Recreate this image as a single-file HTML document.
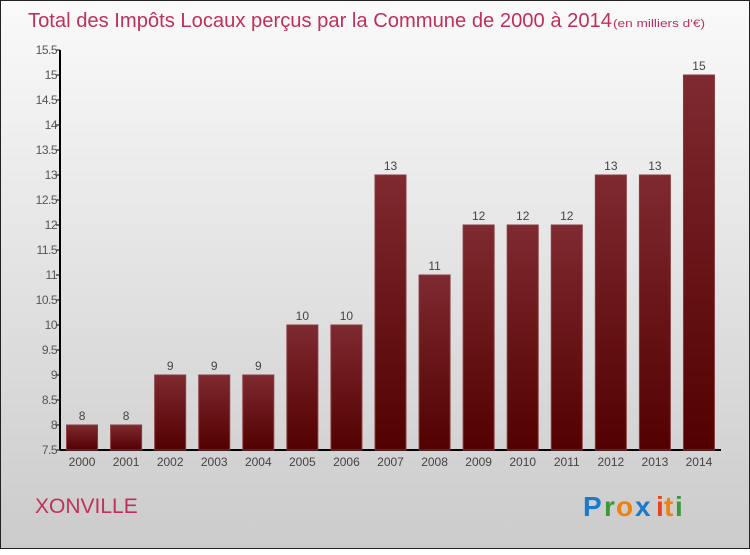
<!DOCTYPE html>
<html><head><meta charset="utf-8"><style>
body{margin:0;width:750px;height:550px;overflow:hidden;font-family:"Liberation Sans",sans-serif;}
</style></head><body>
<svg width="750" height="550" xmlns="http://www.w3.org/2000/svg">
<defs>
<linearGradient id="bg" x1="0" y1="0" x2="0" y2="1"><stop offset="0" stop-color="#fafafa"/><stop offset="1" stop-color="#cbcbcb"/></linearGradient>
<linearGradient id="bar" x1="0" y1="0" x2="0" y2="1"><stop offset="0" stop-color="#7e2a30"/><stop offset="1" stop-color="#520000"/></linearGradient>
</defs>
<rect x="0.5" y="0.5" width="749" height="548" fill="url(#bg)" stroke="#222"/>
<text x="28" y="27" font-size="20" fill="#c0305a" textLength="584" lengthAdjust="spacingAndGlyphs">Total des Impôts Locaux perçus par la Commune de 2000 à 2014</text>
<text x="613" y="27" font-size="11" fill="#c0305a" textLength="92" lengthAdjust="spacingAndGlyphs">(en milliers d'€)</text>
<g id="ax"></g><g id="bars"></g>
<text x="35" y="513" font-size="21" fill="#c0305a">XONVILLE</text>
<g font-size="28" font-weight="bold">
<text x="583" y="516" fill="#1a7acc">P</text><text x="604" y="516" fill="#3a9a3a">r</text><text x="616" y="516" fill="#f08010">o</text><text x="635" y="516" fill="#1a7acc">x</text><text x="656" y="516" fill="#e84020">i</text><text x="664" y="516" fill="#f08010">t</text><text x="675" y="516" fill="#3a9a3a">i</text>
</g>
</svg>
<script>
const years=["2000","2001","2002","2003","2004","2005","2006","2007","2008","2009","2010","2011","2012","2013","2014"];
const values=[8,8,9,9,9,10,10,13,11,12,12,12,13,13,15];
const labels=["8","8","9","9","9","10","10","13","11","12","12","12","13","13","15"];
const ticks=[7.5,8,8.5,9,9.5,10,10.5,11,11.5,12,12.5,13,13.5,14,14.5,15,15.5];
const NS="http://www.w3.org/2000/svg";
const x0=60,x1=721,yMin=7.5,yMax=15.5,yT=50,yB=450;
const y=v=>yB-(v-yMin)/(yMax-yMin)*(yB-yT);
const step=(x1-x0)/years.length;
function mk(t,a,p){const e=document.createElementNS(NS,t);for(const k in a)e.setAttribute(k,a[k]);p.appendChild(e);return e;}
const ax=document.getElementById('ax'),bg=document.getElementById('bars');
const yl=mk('line',{x1:x0,y1:yT,x2:x0,y2:yB,stroke:'#000','stroke-width':2},ax);


const xl=mk('line',{x1:x0,y1:yB,x2:x1,y2:yB,stroke:'#000','stroke-width':2},ax);


ticks.forEach(t=>{
 mk('line',{x1:x0-4,y1:y(t),x2:x0,y2:y(t),stroke:'#000'},ax);
 const tx=mk('text',{x:x0-3,y:y(t)+4,'font-size':12,fill:'#555','text-anchor':'end','letter-spacing':'-0.5'},ax);
 tx.textContent=String(t);
 
 
});
years.forEach((yr,i)=>{
 const cx=x0+step*(i+0.5),w=31;
 const r=mk('rect',{x:cx-w/2,y:y(values[i]),width:w,height:yB-y(values[i]),fill:'url(#bar)',stroke:'#8a3a40','stroke-width':1},bg);
 
 
 const v=mk('text',{x:cx,y:y(values[i])-5,'font-size':12,fill:'#444','text-anchor':'middle'},bg);
 v.textContent=labels[i];
 
 
 const t=mk('text',{x:cx,y:466,'font-size':12,fill:'#444','text-anchor':'middle'},bg);
 t.textContent=yr;
 
 
});
</script>
</body></html>
